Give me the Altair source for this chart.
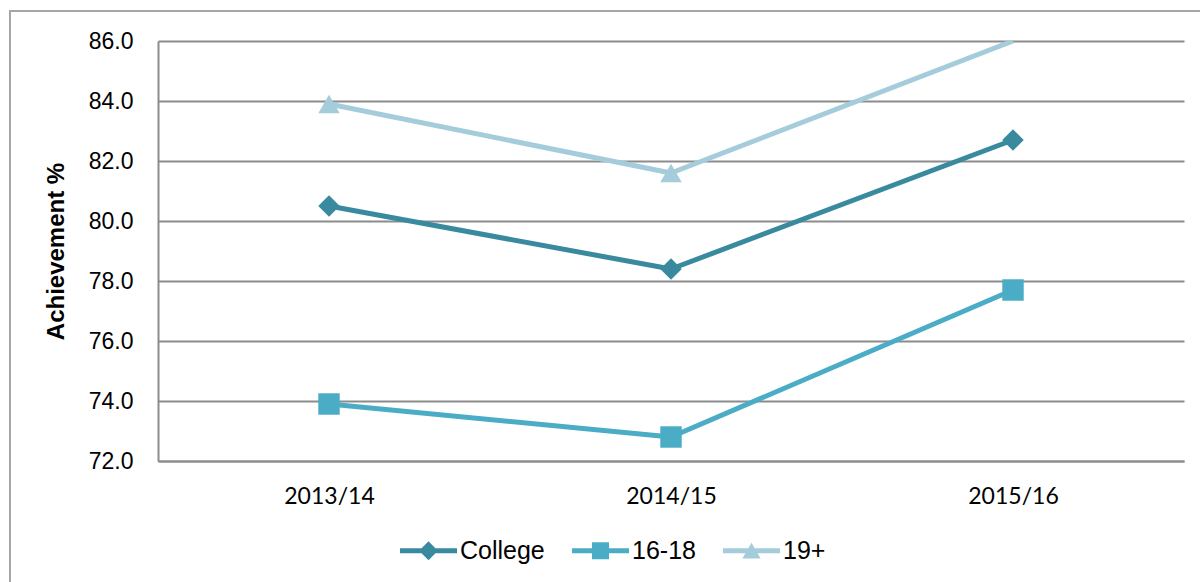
import altair as alt
import pandas as pd

categories = ["2013/14", "2014/15", "2015/16"]
series_names = ["College", "16-18", "19+"]
college = [80.5, 78.4, 82.7]
age_16_18 = [73.9, 72.8, 77.7]
age_19_plus = [83.9, 81.6, 86.0]
y_ticks = [72, 74, 76, 78, 80, 82, 84, 86]

colors = ["#3a8a9f", "#4bacc6", "#a5ccda"]
marker_shapes = ["diamond", "square", "triangle-up"]
legend_paths = [
    "M-1,-0.088H1V0.088H-1Z M0,-0.33L0.33,0L0,0.33L-0.33,0Z",
    "M-1,-0.088H1V0.088H-1Z M-0.3,-0.3H0.3V0.3H-0.3Z",
    "M-1,-0.088H1V0.088H-1Z M0,-0.28L0.32,0.27H-0.32Z",
]

rows = []
for name, vals in zip(series_names, [college, age_16_18, age_19_plus]):
    for cat, v in zip(categories, vals):
        rows.append({"year": cat, "series": name, "value": v})
df = pd.DataFrame(rows)

x_enc = alt.X(
    "year:N",
    sort=categories,
    scale=alt.Scale(type="point", padding=0.5),
    axis=alt.Axis(
        title=None, labelAngle=0, labelFont="Lato", labelFontSize=23,
        labelColor="#000000", labelPadding=24, ticks=False,
        domainColor="#8c8c8c", domainWidth=2, grid=False,
    ),
)
y_enc = alt.Y(
    "value:Q",
    scale=alt.Scale(domain=[72, 86], nice=False, zero=False),
    axis=alt.Axis(
        values=y_ticks, format=".1f", labelFont="Liberation Sans",
        labelFontSize=23, labelColor="#000000", labelPadding=25,
        ticks=False, domainColor="#8c8c8c", domainWidth=2,
        grid=True, gridColor="#8c8c8c", gridWidth=2,
        title="Achievement %", titleFont="Liberation Sans",
        titleFontSize=24, titleFontWeight="bold", titleColor="#000000",
        titleX=-95, titleY=210, titleAngle=270, titleBaseline="alphabetic",
        titleAlign="center",
    ),
)

frame = alt.Chart(pd.DataFrame({"f": [0]})).mark_rect(
    fill="transparent", stroke="#a6a6a6", strokeWidth=2
).encode(
    x=alt.value(-148), x2=alt.value(1300), y=alt.value(-30), y2=alt.value(800)
)

base = alt.Chart(df)

lines = base.mark_line(strokeWidth=5, clip=True, strokeJoin="round").encode(
    x=x_enc, y=y_enc,
    color=alt.Color("series:N", scale=alt.Scale(domain=series_names, range=colors), legend=None),
)

points = base.transform_filter("datum.value < 86").mark_point(
    filled=True, opacity=1, strokeWidth=0, size=460
).encode(
    x=x_enc, y=y_enc,
    color=alt.Color("series:N", scale=alt.Scale(domain=series_names, range=colors), legend=None),
    shape=alt.Shape("series:N", scale=alt.Scale(domain=series_names, range=marker_shapes), legend=None),
)

legend_props = dict(
    title=None, orient="none", legendX=242, legendY=481, direction="horizontal",
    symbolSize=3249, symbolStrokeWidth=0, symbolOpacity=1,
    labelFont="Liberation Sans", labelFontSize=25, labelColor="#000000",
    labelOffset=3, columnPadding=27, padding=0,
)

legend_layer = base.transform_filter("false").mark_point(filled=True, opacity=1).encode(
    x=x_enc, y=y_enc,
    color=alt.Color("series:N", scale=alt.Scale(domain=series_names, range=colors),
                    legend=alt.Legend(**legend_props)),
    shape=alt.Shape("series:N", scale=alt.Scale(domain=series_names, range=legend_paths),
                    legend=alt.Legend(**legend_props)),
)

chart = alt.layer(
    alt.layer(frame, lines, points),
    legend_layer,
).resolve_scale(
    shape="independent", color="independent"
).properties(
    width=1026, height=420, autosize="none",
    padding={"left": 158, "top": 41, "right": 16, "bottom": 121},
    background="#ffffff",
).configure_view(stroke=None)

chart.save("out.html", embed_options={"renderer": "svg", "actions": False})
